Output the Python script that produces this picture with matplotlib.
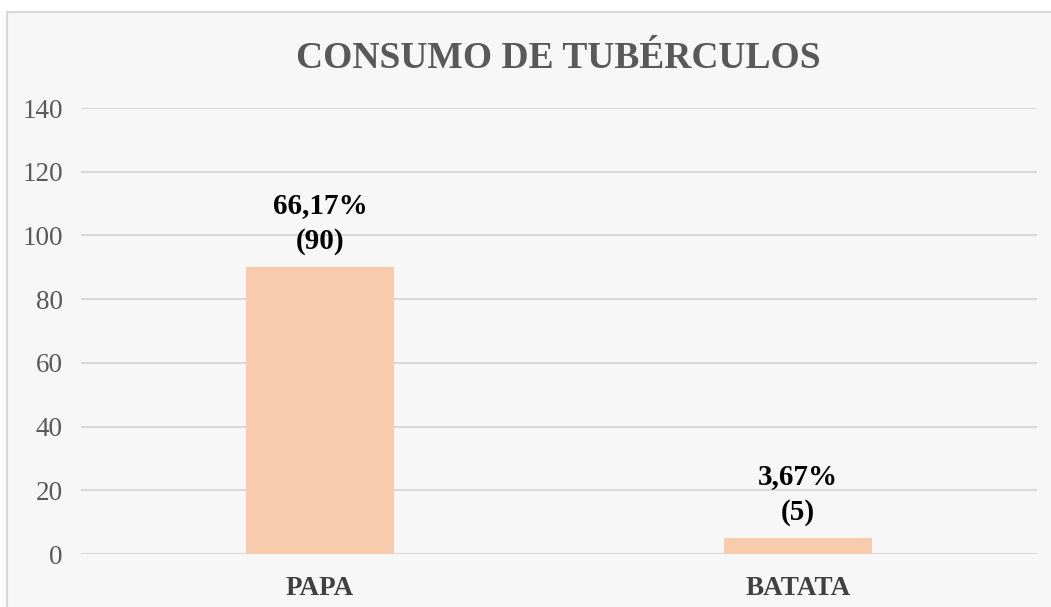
import matplotlib.pyplot as plt
from matplotlib.patches import Rectangle

categorias = ['PAPA', 'BATATA']
cantidades = [90, 5]
porcentajes = ['66,17%', '3,67%']
ticks_y = [0, 20, 40, 60, 80, 100, 120, 140]

plt.rcParams['font.family'] = ['Liberation Serif', 'DejaVu Serif']

fig = plt.figure(figsize=(10.51, 6.07), dpi=100)
fig.patch.set_facecolor('white')
# fondo gris claro con borde, como el grafico de Excel
fig.patches.append(Rectangle((7 / 1051, -0.01), 1.02, 1 - 12 / 607 + 0.01,
                             transform=fig.transFigure, facecolor='#f7f7f7',
                             edgecolor='#d9d9d9', linewidth=1.5, zorder=-5))

ax = fig.add_axes([81 / 1051, 1 - 554 / 607, (1037 - 81) / 1051, (554 - 108) / 607])
ax.set_facecolor('none')

x = range(len(categorias))
ax.bar(x, cantidades, width=0.31, color='#f8cbad', zorder=2)

for i in x:
    ax.annotate(porcentajes[i] + '\n(' + str(cantidades[i]) + ')',
                (i, cantidades[i]), xytext=(0, 9), textcoords='offset points',
                ha='center', va='bottom', fontsize=21, fontweight='bold',
                color='black', linespacing=1.4, zorder=3)

ax.set_xlim(-0.5, 1.5)
ax.set_ylim(0, 140)
ax.set_yticks(ticks_y)
ax.set_xticks(list(x))
ax.set_xticklabels(categorias, fontsize=19.5, fontweight='bold', color='#404040')
ax.tick_params(axis='y', labelsize=19.5, labelcolor='#595959', length=0, pad=13)
ax.tick_params(axis='x', length=0, pad=16)
ax.grid(axis='y', color='#d9d9d9', linewidth=1.5, zorder=1)
for s in ax.spines.values():
    s.set_visible(False)

fig.text(0.531, 1 - 59 / 607, 'CONSUMO DE TUBÉRCULOS', ha='center', va='center',
         fontsize=27, fontweight='bold', color='#595959')

fig.savefig('out.png', dpi=100)
